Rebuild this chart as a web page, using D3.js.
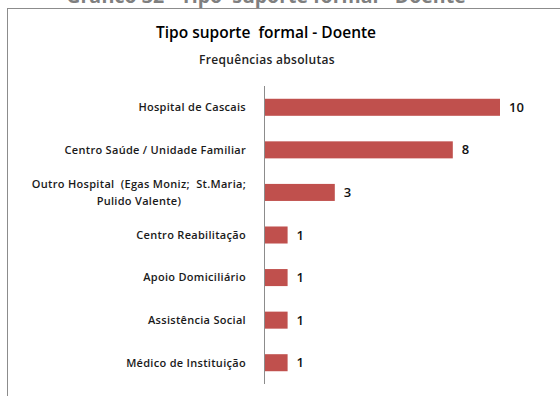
<!DOCTYPE html>
<html>
<head>
<meta charset="utf-8">
<script src="https://cdn.jsdelivr.net/npm/d3@7"></script>
<style>
  body { margin: 0; background: #fff; }
  svg { display: block; }
  text { white-space: pre; }
</style>
</head>
<body>
<script>
// data
const categories = [
  "Hospital de Cascais",
  "Centro Saúde / Unidade Familiar",
  "Outro Hospital  (Egas Moniz;  St.Maria;|Pulido Valente)",
  "Centro Reabilitação",
  "Apoio Domiciliário",
  "Assistência Social",
  "Médico de Instituição"
];
const values = [10, 8, 3, 1, 1, 1, 1];

const w = 560, h = 396;
const font = "'Open Sans', sans-serif";

let svg = d3.select("body")
  .append("svg")
  .attr("width", w)
  .attr("height", h);

// cut off page heading at the very top
svg.append("text")
  .attr("x", 266).attr("y", 3)
  .attr("text-anchor", "middle")
  .style("font-family", font)
  .style("font-size", "19.5px")
  .style("font-weight", "bold")
  .style("fill", "#7f7f7f")
  .text("Gráfico 32 - Tipo  suporte formal - Doente");

// chart frame (runs off right and bottom)
svg.append("rect")
  .attr("x", 7.5).attr("y", 8.5)
  .attr("width", 600).attr("height", 500)
  .attr("fill", "#fff")
  .attr("stroke", "#8c8c8c");

svg.append("text")
  .attr("x", 266).attr("y", 38)
  .attr("text-anchor", "middle")
  .style("font-family", font)
  .style("font-size", "15.5px")
  .style("font-weight", 600)
  .style("fill", "#000")
  .text("Tipo suporte  formal - Doente");

svg.append("text")
  .attr("x", 267).attr("y", 64)
  .attr("text-anchor", "middle")
  .style("font-family", font)
  .style("font-size", "12px")
  .style("letter-spacing", "0.3px")
  .style("font-weight", 600)
  .style("fill", "#222")
  .text("Frequências absolutas");

let xScale = d3.scaleLinear()
  .domain([0, 10])
  .range([264, 500]);

let yScale = d3.scaleBand()
  .domain(d3.range(categories.length))
  .range([86, 384])
  .paddingInner(0.6)
  .paddingOuter(0.3);

svg.selectAll("rect.bar")
  .data(values)
  .enter()
  .append("rect")
  .attr("class", "bar")
  .attr("x", xScale(0))
  .attr("y", (d, i) => yScale(i))
  .attr("width", d => xScale(d) - xScale(0))
  .attr("height", yScale.bandwidth())
  .attr("fill", "#c0504d");

// axis line
svg.append("line")
  .attr("x1", xScale(0) + 0.5).attr("x2", xScale(0) + 0.5)
  .attr("y1", 86).attr("y2", 384)
  .attr("stroke", "#8c8c8c");

// value labels
svg.selectAll("text.val")
  .data(values)
  .enter()
  .append("text")
  .attr("class", "val")
  .attr("x", d => xScale(d) + 9)
  .attr("y", (d, i) => yScale(i) + yScale.bandwidth() / 2)
  .attr("dy", "0.35em")
  .style("font-family", font)
  .style("font-size", "13px")
  .style("font-weight", 600)
  .style("fill", "#111")
  .text(d => d);

// category labels, wrapped lines centred on each other
let labels = svg.selectAll("g.cat")
  .data(categories)
  .enter()
  .append("g")
  .attr("class", "cat")
  .attr("transform", (d, i) => `translate(0,${yScale(i) + yScale.bandwidth() / 2})`);

labels.each(function (d) {
  let lines = d.split("|");
  let g = d3.select(this);
  let t = g.append("text")
    .style("font-family", font)
    .style("font-size", "11px")
    .style("letter-spacing", "0.3px")
    .style("font-weight", 600)
    .style("fill", "#1a1a1a");
  if (lines.length === 1) {
    t.attr("x", 246)
      .attr("dy", "0.35em")
      .attr("text-anchor", "end")
      .text(d);
  } else {
    // centre lines on the widest one, right aligned at 246
    t.attr("text-anchor", "middle");
    lines.forEach((l, k) => {
      t.append("tspan")
        .attr("x", 0)
        .attr("y", (k - (lines.length - 1) / 2) * 17)
        .attr("dy", "0.35em")
        .text(l);
    });
    let bw = t.node().getBBox().width;
    t.attr("transform", `translate(${246 - bw / 2},0)`);
  }
});
</script>
</body>
</html>
